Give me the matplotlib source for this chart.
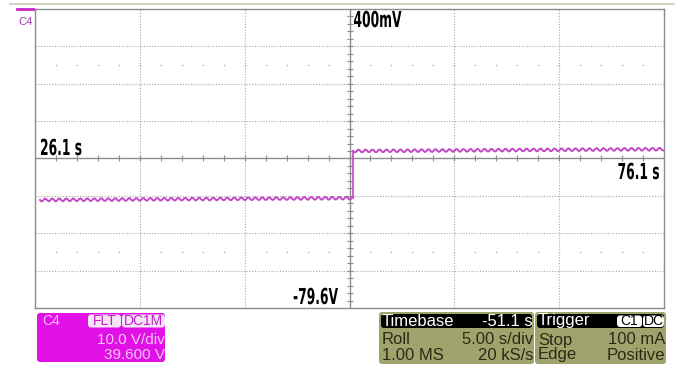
import matplotlib
matplotlib.use("Agg")
import matplotlib.pyplot as plt
from matplotlib.patches import FancyBboxPatch, PathPatch
from matplotlib.textpath import TextPath
from matplotlib.font_manager import FontProperties
from matplotlib.transforms import Affine2D

# screen scale: 50 s across, 10 V/div with 39.6 V offset
t_range = [26.1, 76.1]
v_range = [-79.6, 0.4]
n_xdiv = 6
n_ydiv = 8

# C4 trace: step from about -50.5 V up to about -37.4 V
low_t = [26.5, 51.4]
low_v = [-50.7, -50.2]
step_t = [51.4, 51.4]
step_v = [-50.2, -37.6]
high_t = [51.4, 76.1]
high_v = [-37.6, -37.1]

corner_labels = ["26.1 s", "400mV", "76.1 s", "-79.6V"]

ch_rows = [("C4", ""), ("", "10.0 V/div"), ("", "39.600 V")]
tb_rows = [("Timebase", "-51.1 s"), ("Roll", "5.00 s/div"), ("1.00 MS", "20 kS/s")]
trig_rows = [("Trigger", ""), ("Stop", "100 mA"), ("Edge", "Positive")]

W, H = 675, 367
fig = plt.figure(figsize=(W / 100, H / 100), dpi=100)
fig.patch.set_facecolor("white")

grid_c = "#a8a8a8"
trace_c = "#c447c8"

ax = fig.add_axes([35 / W, 1 - 308 / H, (664 - 35) / W, (308 - 9) / H])
ax.set_xlim(t_range)
ax.set_ylim(v_range)
for s in ax.spines.values():
    s.set_color("#8c8c8c")
    s.set_linewidth(1.0)
ax.set_xticks([])
ax.set_yticks([])

xdiv = (t_range[1] - t_range[0]) / n_xdiv
ydiv = (v_range[1] - v_range[0]) / n_ydiv
t_mid = t_range[0] + xdiv * n_xdiv / 2
v_mid = v_range[0] + ydiv * n_ydiv / 2

# dotted graticule
for i in range(1, n_xdiv):
    if i != n_xdiv // 2:
        ax.axvline(t_range[0] + i * xdiv, color=grid_c, lw=0.8, ls=(0, (1, 1.5)))
for j in range(1, n_ydiv):
    if j != n_ydiv // 2:
        ax.axhline(v_range[0] + j * ydiv, color=grid_c, lw=0.8, ls=(0, (1, 1.5)))

# centre cross with minor ticks
ax.axvline(t_mid, color="#8c8c8c", lw=1.0)
ax.axhline(v_mid, color="#8c8c8c", lw=1.0)
minor_t = [t_range[0] + k * xdiv / 5 for k in range(1, n_xdiv * 5)]
minor_v = [v_range[0] + k * ydiv / 5 for k in range(1, n_ydiv * 5)]
ax.plot(minor_t, [v_mid] * len(minor_t), ls="none", marker="|", ms=5, mew=0.8, color="#8c8c8c")
ax.plot([t_mid] * len(minor_v), minor_v, ls="none", marker="_", ms=5, mew=0.8, color="#8c8c8c")

# faint dots in the middle of the 2nd and 7th rows
for row_v in [v_range[1] - 1.5 * ydiv, v_range[0] + 1.5 * ydiv]:
    ax.plot(minor_t, [row_v] * len(minor_t), ls="none", marker="s", ms=1.0, mew=0, color="#b0b0b0")

# trace
for tt, vv in [(low_t, low_v), (high_t, high_v)]:
    ln, = ax.plot(tt, vv, color=trace_c, lw=1.4, solid_joinstyle="round")
    ln.set_sketch_params(scale=1.4, length=7, randomness=1)
ax.plot(step_t, step_v, color=trace_c, lw=1.2)

# overlay in pixel units for labels and status panels
ov = fig.add_axes([0, 0, 1, 1], zorder=5)
ov.set_xlim(0, W)
ov.set_ylim(H, 0)
ov.axis("off")
ov.patch.set_alpha(0)

bold = FontProperties(family="DejaVu Sans", weight="bold")


def narrow_text(x, y, s, ha="left", size=22, squeeze=0.56):
    # condensed bold label drawn as a path, x/y = anchor on the baseline
    tp = TextPath((0, 0), s, size=size, prop=bold)
    ext = tp.get_extents()
    w = ext.width * squeeze
    x0 = x if ha == "left" else x - w
    tr = Affine2D().translate(-ext.x0, 0).scale(squeeze, -1).translate(x0, y)
    ov.add_patch(PathPatch(tr.transform_path(tp), fc="black", ec="none", lw=0))


narrow_text(41, 155, corner_labels[0])
narrow_text(354, 27, corner_labels[1])
narrow_text(659, 179, corner_labels[2], ha="right")
narrow_text(338, 304, corner_labels[3], ha="right")

ov.plot([10, W], [4, 4], color="#d8d4c4", lw=1.5)
ov.plot([17, 33], [9, 9], color="#cc22cc", lw=2)
ov.text(18, 22, "C4", color="#a040b0", fontsize=8, family="Liberation Sans", va="center")

pf = "Liberation Sans"
fs = 11

# channel box
ov.add_patch(FancyBboxPatch((37, 313), 128, 49, boxstyle="round,pad=0,rounding_size=3",
                            fc="#e010e6", ec="none"))
ov.text(42, 321, ch_rows[0][0], color="#f6c6f6", fontsize=fs - 1, family=pf, va="center")
for x0, w, s in [(88, 33, "FLT"), (122, 43, "DC1M")]:
    ov.add_patch(FancyBboxPatch((x0, 314.5), w, 13, boxstyle="round,pad=0,rounding_size=3",
                                fc="#f8e4f8", ec="none"))
    ov.text(x0 + w / 2, 321, s, color="#c020c8", fontsize=fs - 1, family=pf, ha="center", va="center")
ov.text(165, 340, ch_rows[1][1], color="#f6c6f6", fontsize=fs, family=pf, ha="right", va="center")
ov.text(165, 355, ch_rows[2][1], color="#f6c6f6", fontsize=fs, family=pf, ha="right", va="center")

olive = "#a0a46c"
ink = "#2a2a18"
pfs = 12


def panel(x0, x1, rows):
    ov.add_patch(FancyBboxPatch((x0, 312), x1 - x0, 52, boxstyle="round,pad=0,rounding_size=3",
                                fc=olive, ec="none"))
    ov.add_patch(FancyBboxPatch((x0 + 2, 314), x1 - x0 - 4, 14, boxstyle="round,pad=0,rounding_size=3",
                                fc="black", ec="none"))
    ov.text(x0 + 3, 321, rows[0][0], color="white", fontsize=pfs, family=pf, va="center")
    ov.text(x1 - 1, 321, rows[0][1], color="white", fontsize=pfs, family=pf, ha="right", va="center")
    for y, (l, r) in zip([340, 355], rows[1:]):
        ov.text(x0 + 3, y, l, color=ink, fontsize=pfs, family=pf, va="center")
        ov.text(x1 - 1, y, r, color=ink, fontsize=pfs, family=pf, ha="right", va="center")


panel(379, 534, tb_rows)
panel(535, 666, trig_rows)
for x0, w, s in [(617, 25, "C1"), (643, 21, "DC")]:
    ov.add_patch(FancyBboxPatch((x0, 315.5), w, 11.5, boxstyle="round,pad=0,rounding_size=3",
                                fc="white", ec="none"))
    ov.text(x0 + w / 2, 321, s, color="black", fontsize=pfs - 2, family=pf, ha="center", va="center")

fig.savefig("out.png", dpi=100)
